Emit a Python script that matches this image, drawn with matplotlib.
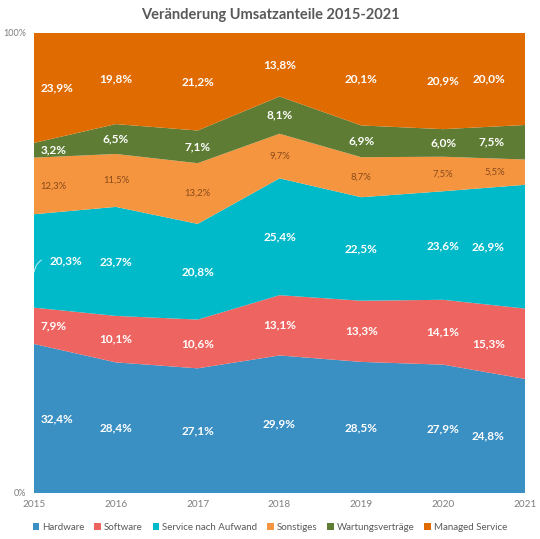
import matplotlib
matplotlib.use("Agg")
import matplotlib.pyplot as plt
import numpy as np

years = [2015, 2016, 2017, 2018, 2019, 2020, 2021]
series_names = ["Hardware", "Software", "Service nach Aufwand", "Sonstiges",
                "Wartungsverträge", "Managed Service"]
hardware = [32.4, 28.4, 27.1, 29.9, 28.5, 27.9, 24.8]
software = [7.9, 10.1, 10.6, 13.1, 13.3, 14.1, 15.3]
service = [20.3, 23.7, 20.8, 25.4, 22.5, 23.6, 26.9]
sonstiges = [12.3, 11.5, 13.2, 9.7, 8.7, 7.5, 5.5]
wartung = [3.2, 6.5, 7.1, 8.1, 6.9, 6.0, 7.5]
managed = [23.9, 19.8, 21.2, 13.8, 20.1, 20.9, 20.0]
y_tick_labels = ["0%", "100%"]

colors = ["#3A8FC3", "#EE6460", "#00B9C9", "#F5953F", "#5E7C33", "#E06B00"]
label_colors = ["white", "white", "white", "#8A4A1A", "white", "white"]

plt.rcParams['font.family'] = ['Lato', 'DejaVu Sans']

fig = plt.figure(figsize=(5.40, 5.39), dpi=100)
ax = fig.add_axes([34/540, 1-493/539, (525-34)/540, (493-33)/539])

data = np.array([hardware, software, service, sonstiges, wartung, managed])
ax.stackplot(years, data, colors=colors, labels=series_names, linewidth=0)

ax.set_xlim(years[0], years[-1])
ax.set_ylim(0, 100)
for s in ax.spines.values():
    s.set_visible(False)
ax.set_yticks([0, 100])
ax.set_yticklabels(y_tick_labels)
ax.set_xticks(years)
ax.set_xticklabels([str(y) for y in years])
ax.tick_params(length=0, labelsize=7.2, colors="#7F7F7F", pad=5)
ax.tick_params(axis='y', pad=6, labelsize=6.5)

cum = np.cumsum(data, axis=0)
bottoms = cum - data
for i in range(data.shape[0]):
    for j, yr in enumerate(years):
        mid = bottoms[i, j] + data[i, j] / 2
        txt = f"{data[i, j]:.1f}%".replace(".", ",")
        if j == 0:
            ha, off = "left", 4.5
        elif j == len(years) - 1:
            ha, off = "right", -14.5
        else:
            ha, off = "center", 0
        if i == 3:
            kw = dict(fontsize=6.8, color=label_colors[i], fontweight="normal")
        else:
            kw = dict(fontsize=8.5, color=label_colors[i], fontweight="bold")
        if i == 2 and j == 0:
            off = 11.5
        ax.annotate(txt, (yr, mid), xytext=(off, 0), textcoords="offset points",
                    ha=ha, va="center", **kw)

# leader line for the first service label
mid0 = bottoms[2, 0] + data[2, 0] / 2
ax.annotate("", xy=(years[0], mid0 - 3), xytext=(years[0] + 0.12, mid0 + 0.5),
            arrowprops=dict(arrowstyle="-", color="#BFEFF3", lw=0.7,
                            connectionstyle="arc3,rad=0.3"))

fig.text(0.5, 1 - 15/539, "Veränderung Umsatzanteile 2015-2021", ha="center",
         va="center", fontsize=10.5, fontweight="bold", color="#595959")

handles, labels = ax.get_legend_handles_labels()
fig.legend(handles, labels, loc="center", bbox_to_anchor=(0.5, 1 - 527/539),
           ncol=6, frameon=False, fontsize=7, handlelength=0.7,
           handleheight=0.7, handletextpad=0.3, columnspacing=1.0,
           labelcolor="#595959")

fig.savefig("out.png", dpi=100, facecolor="white")
